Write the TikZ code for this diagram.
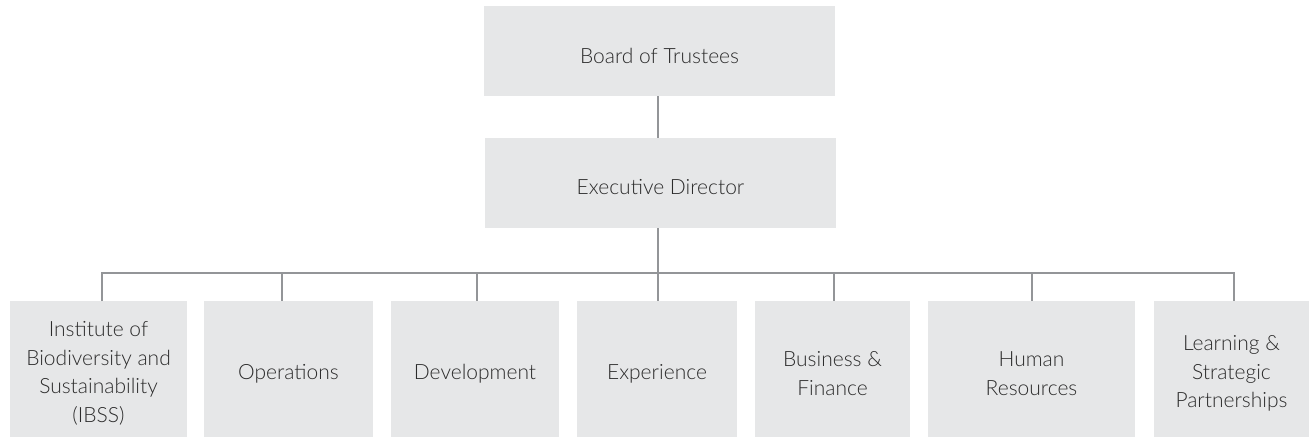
\documentclass[tikz,border=0pt]{standalone}
\usepackage{fontspec}
\setmainfont{Lato}[UprightFont=* Light]
\definecolor{boxgray}{HTML}{E6E7E8}
\definecolor{linegray}{HTML}{939598}
\definecolor{txtgray}{HTML}{2B2B2B}
\begin{document}
\begin{tikzpicture}[x=1pt,y=-1pt,
  orgbox/.style={fill=boxgray, draw=none, inner sep=0pt, outer sep=0pt},
  orgtext/.style={align=center, text=txtgray, inner sep=0pt, yshift=-4.5pt,
    font=\fontsize{21}{28.5}\selectfont},
  topbox/.style={orgbox, minimum width=351pt, minimum height=90pt},
  unitbox/.style={orgbox, minimum height=136pt},
  link/.style={draw=linegray, line width=1.8pt}]
\useasboundingbox (0,0) rectangle (1309,437);
\node[topbox, label={[orgtext]center:{Board of Trustees}}] (board) at (659.5,51) {};
\node[topbox, label={[orgtext]center:{Executive Director}}] (exec) at (660.5,183) {};
\node[unitbox, minimum width=177pt, label={[orgtext]center:{Institute of\\Biodiversity and\\Sustainability\\(IBSS)}}] (ibss) at (98.5,369) {};
\node[unitbox, minimum width=169pt, label={[orgtext]center:{Operations}}] (ops) at (288.5,369) {};
\node[unitbox, minimum width=168pt, label={[orgtext]center:{Development}}] (dev) at (475,369) {};
\node[unitbox, minimum width=160pt, label={[orgtext]center:{Experience}}] (exp) at (657,369) {};
\node[unitbox, minimum width=155pt, label={[orgtext]center:{Business \&\\Finance}}] (bus) at (832.5,369) {};
\node[unitbox, minimum width=207pt, label={[orgtext]center:{Human\\Resources}}] (hr) at (1031.5,369) {};
\node[unitbox, minimum width=155pt, label={[orgtext]center:{Learning \&\\Strategic\\Partnerships}}] (lsp) at (1231.5,369) {};
\coordinate (b1) at (102,273);
\coordinate (b2) at (282,273);
\coordinate (b3) at (477,273);
\coordinate (b4) at (658,273);
\coordinate (b5) at (834,273);
\coordinate (b6) at (1032,273);
\coordinate (b7) at (1234,273);
\draw[link] (board.south -| b4) -- (exec.north -| b4);
\draw[link] (exec.south -| b4) -- (b4);
\draw[link] (ibss.north -| b1) -- (b1) -- (b7) -- (lsp.north -| b7);
\draw[link] (b2) -- (ops.north -| b2);
\draw[link] (b3) -- (dev.north -| b3);
\draw[link] (b4) -- (exp.north -| b4);
\draw[link] (b5) -- (bus.north -| b5);
\draw[link] (b6) -- (hr.north -| b6);
\end{tikzpicture}
\end{document}
